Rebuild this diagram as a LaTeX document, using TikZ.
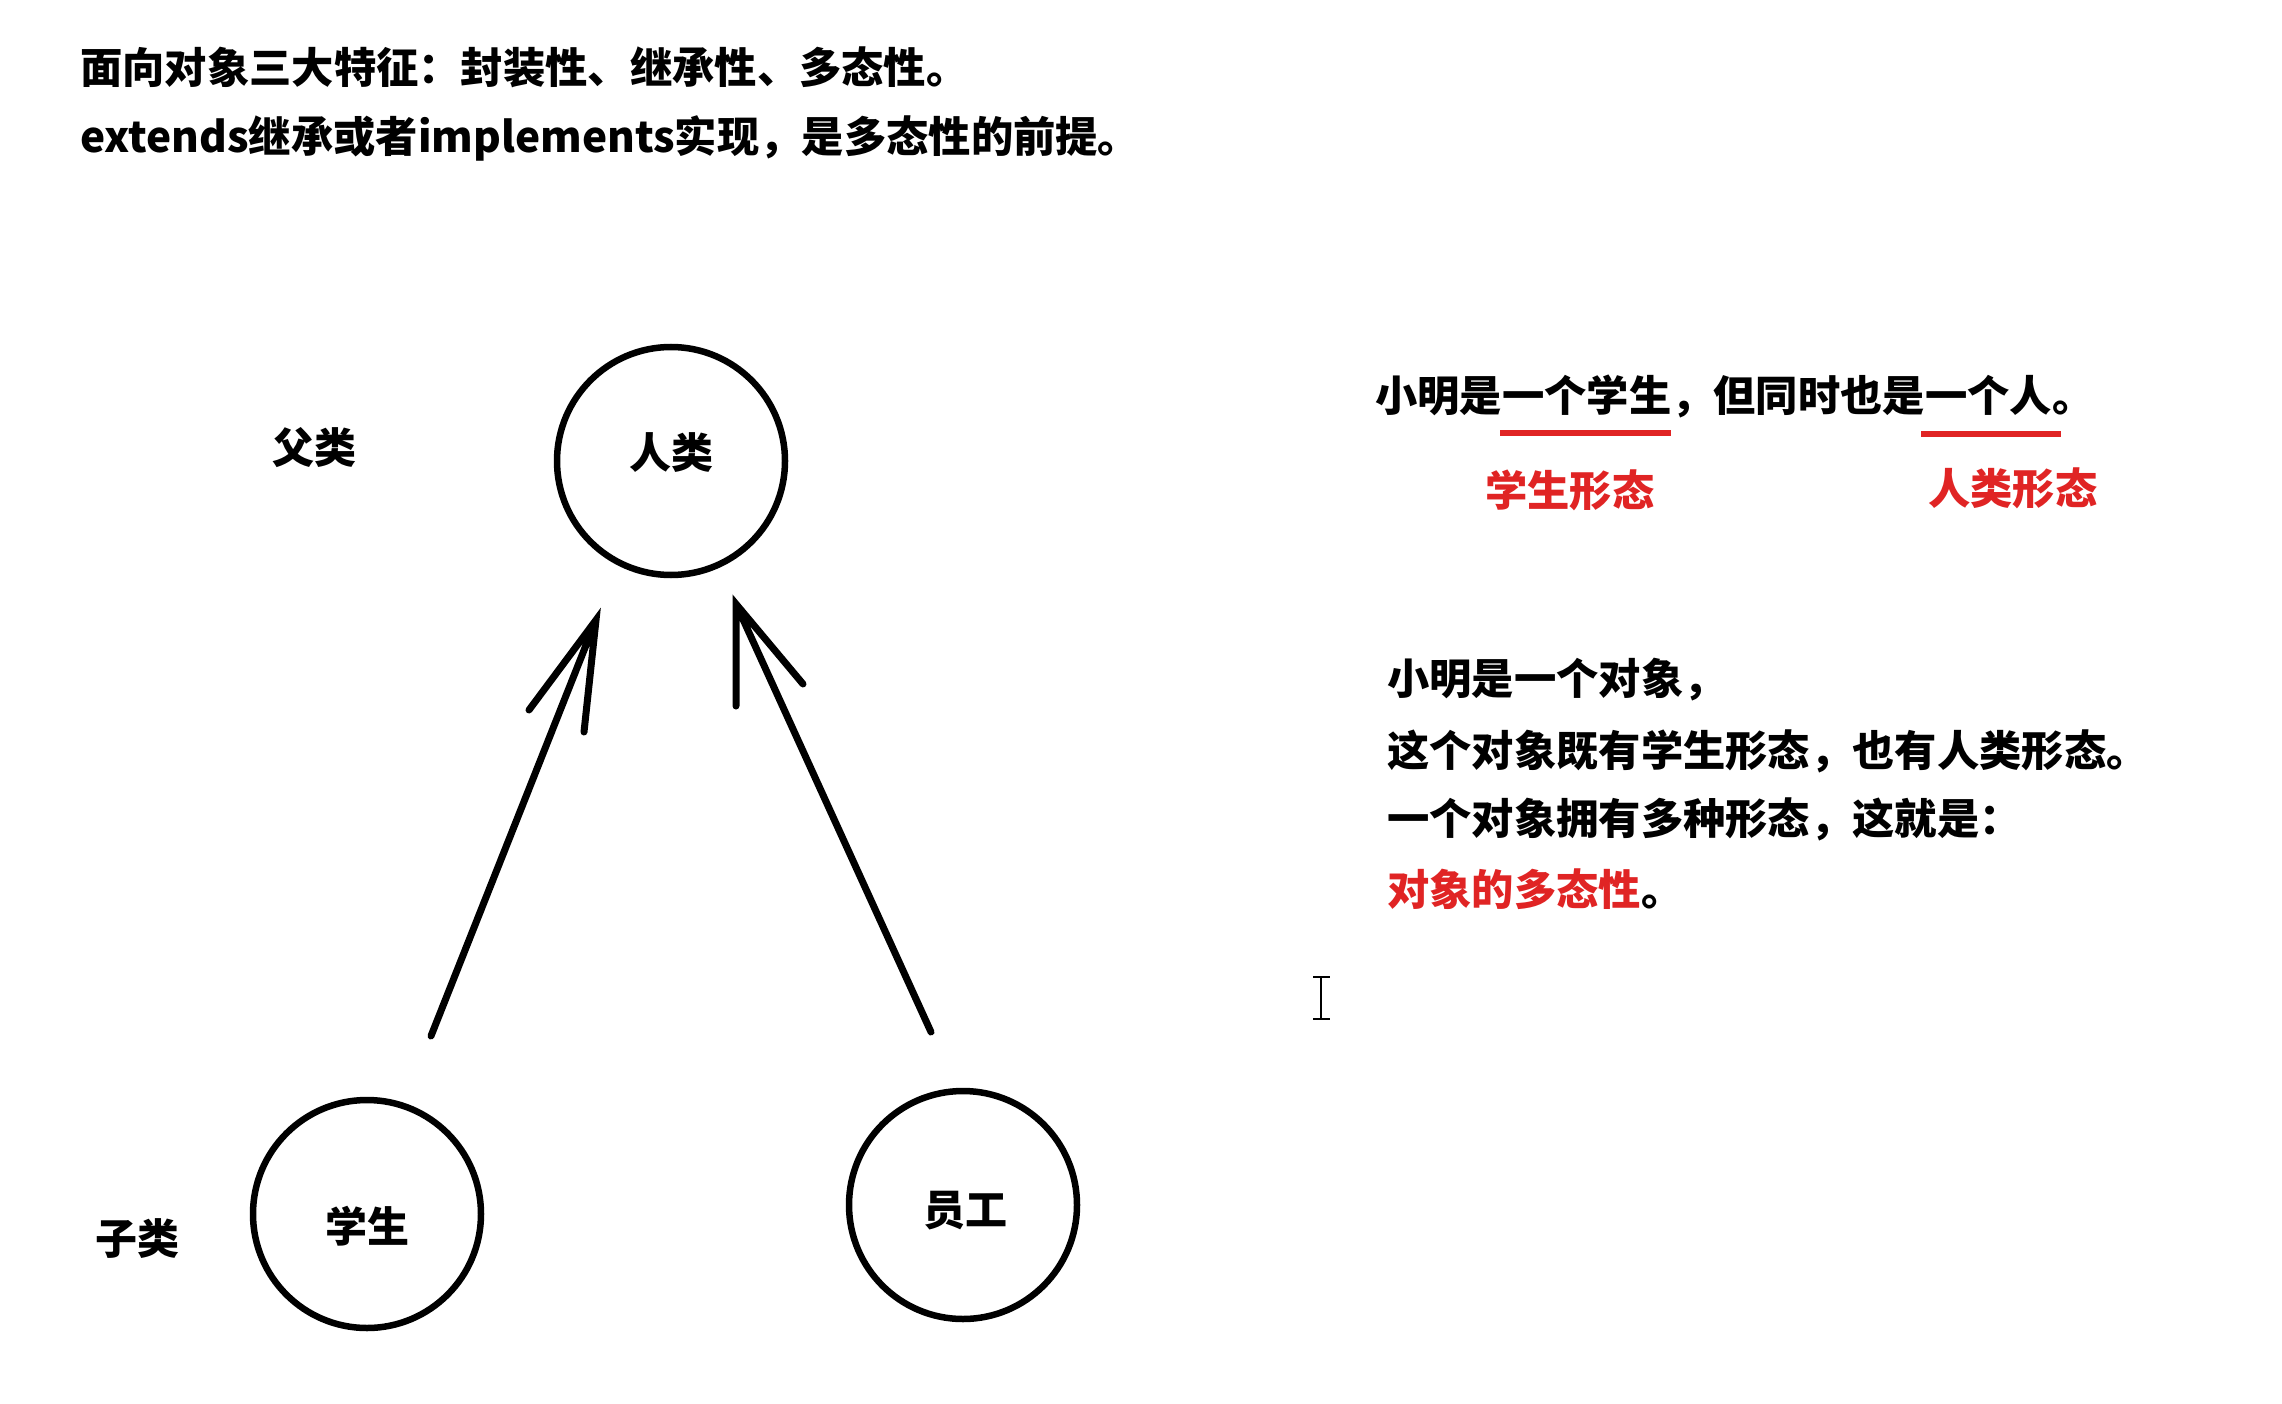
\documentclass[tikz,border=0pt]{standalone}
\usepackage{fontspec}
\newfontfamily\cjk{Noto Sans CJK SC}
\definecolor{hred}{RGB}{224,36,36}
\tikzset{
  txt/.style={anchor=west,inner sep=0pt,font=\cjk\bfseries\fontsize{42.3}{50}\selectfont},
  lbl/.style={inner sep=0pt,font=\cjk\bfseries\fontsize{42}{50}\selectfont},
  cls/.style={circle,draw,line width=6.5pt,minimum size=228pt,inner sep=0pt},
  pen/.style={line width=7pt,line cap=round},
  redline/.style={hred,line width=6.5pt},
}
\begin{document}
\begin{tikzpicture}[x=1pt,y=-1pt]
\useasboundingbox[fill=white] (0,0) rectangle (2282,1404);
% header
\node[txt] (h1) at (80,67) {面向对象三大特征：封装性、继承性、多态性。};
\node[txt] (h2) at (80,138) {extends继承或者implements实现，是多态性的前提。};
% class circles
\node[cls] (ren) at (671,461) {};
\node[lbl] (renl) at (671,453) {人类};
\node[cls] (stu) at (367,1214) {};
\node[lbl] (stul) at (367,1226) {学生};
\node[cls] (emp) at (963,1205) {};
\node[lbl] (empl) at (965,1211) {员工};
\node[lbl] (fu) at (314,448) {父类};
\node[lbl] (zi) at (137,1239) {子类};
% arrows
\coordinate (a1s) at (431,1036);
\coordinate (a1t) at (596,620);
\coordinate (a1l) at (529,710);
\coordinate (a1r) at (584,732);
\draw[pen] (a1s) -- (a1t) (a1l) -- (a1t) -- (a1r);
\coordinate (a2s) at (931,1032);
\coordinate (a2t) at (736,604);
\coordinate (a2l) at (736,706);
\coordinate (a2r) at (803,684);
\draw[pen] (a2s) -- (a2t) (a2l) -- (a2t) -- (a2r);
% right side text
\node[txt] (r1) at (1375,396) {小明是一个学生，但同时也是一个人。};
\draw[redline] (1500,433) -- (1671,433);
\draw[redline] (1921,434) -- (2061,434);
\node[txt,hred] (f1) at (1485,490) {学生形态};
\node[txt,hred] (f2) at (1928,488) {人类形态};
\node[txt] (b1) at (1387,680) {小明是一个对象，};
\node[txt] (b2) at (1387,751) {这个对象既有学生形态，也有人类形态。};
\node[txt] (b3) at (1387,819) {一个对象拥有多种形态，这就是：};
\node[txt] (b4) at (1387,889) {\textcolor{hred}{对象的多态性}。};
% text cursor
\draw[line width=2.2pt] (1321,977) -- (1321,1019);
\draw[line width=2pt] (1313,977) -- (1330,977) (1313,1019) -- (1330,1019);
\end{tikzpicture}
\end{document}
